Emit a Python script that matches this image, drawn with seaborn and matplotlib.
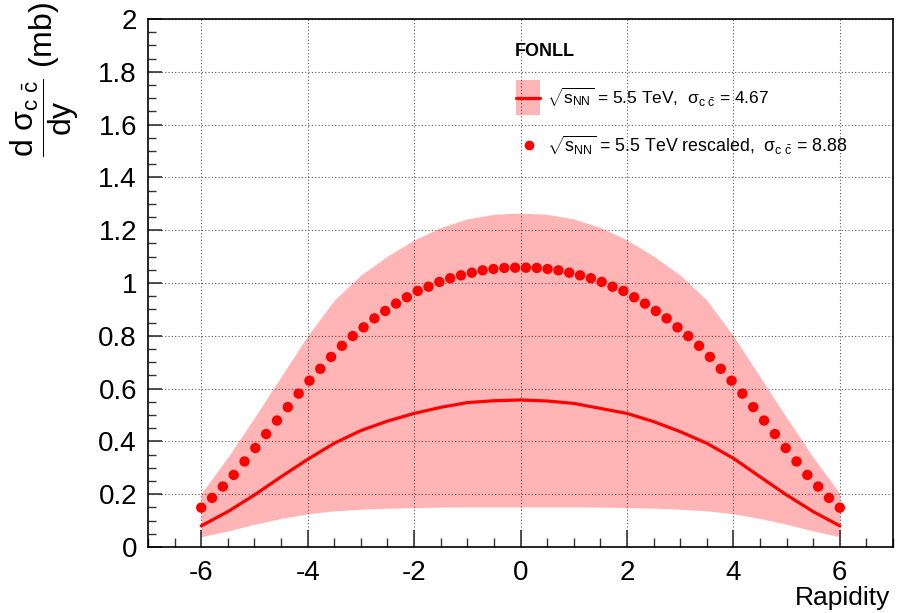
import numpy as np
import pandas as pd
import seaborn as sns
import matplotlib
matplotlib.use("Agg")
import matplotlib.pyplot as plt
from matplotlib.patches import Rectangle
from matplotlib.lines import Line2D
from matplotlib.ticker import MultipleLocator, FormatStrFormatter

# ---------------- data ----------------
# FONLL central curve and uncertainty band (sqrt(s_NN) = 5.5 TeV)
rap_curve = [-6.0, -5.5, -5.0, -4.5, -4.0, -3.5, -3.0, -2.5, -2.0, -1.5, -1.0, -0.5, 0.0,
             0.5, 1.0, 1.5, 2.0, 2.5, 3.0, 3.5, 4.0, 4.5, 5.0, 5.5, 6.0]
central = [0.080, 0.134, 0.197, 0.266, 0.332, 0.393, 0.441, 0.477, 0.506, 0.529, 0.547, 0.554, 0.557,
           0.553, 0.544, 0.525, 0.506, 0.475, 0.437, 0.393, 0.336, 0.266, 0.197, 0.134, 0.080]
band_upper = [0.203, 0.340, 0.490, 0.645, 0.800, 0.935, 1.030, 1.102, 1.163, 1.210, 1.243, 1.260, 1.265,
              1.260, 1.243, 1.210, 1.163, 1.102, 1.030, 0.935, 0.800, 0.645, 0.490, 0.340, 0.203]
band_lower = [0.039, 0.061, 0.086, 0.108, 0.126, 0.137, 0.143, 0.147, 0.149, 0.151, 0.152, 0.152, 0.152,
              0.152, 0.152, 0.151, 0.149, 0.147, 0.143, 0.137, 0.126, 0.108, 0.086, 0.061, 0.039]

# rescaled curve (60 points between -6 and 6)
rap_points = np.linspace(-6.0, 6.0, 60)
rescaled = [0.149, 0.186, 0.229, 0.273, 0.324, 0.375, 0.428, 0.479, 0.530, 0.581,
            0.630, 0.675, 0.720, 0.762, 0.799, 0.832, 0.866, 0.894, 0.922, 0.946,
            0.970, 0.986, 1.004, 1.018, 1.029, 1.039, 1.048, 1.053, 1.057, 1.058,
            1.058, 1.057, 1.053, 1.048, 1.039, 1.029, 1.018, 1.004, 0.986, 0.970,
            0.946, 0.922, 0.894, 0.866, 0.832, 0.799, 0.762, 0.720, 0.675, 0.630,
            0.581, 0.530, 0.479, 0.428, 0.375, 0.324, 0.273, 0.229, 0.186, 0.149]

legend_title = "FONLL"
label_curve = r"$\sqrt{\mathrm{s}_{\mathrm{NN}}}$ = 5.5 TeV,  $\mathrm{\sigma}_{\mathrm{c}\ \bar{\mathrm{c}}}$ = 4.67"
label_points = r"$\sqrt{\mathrm{s}_{\mathrm{NN}}}$ = 5.5 TeV rescaled,  $\mathrm{\sigma}_{\mathrm{c}\ \bar{\mathrm{c}}}$ = 8.88"

df_curve = pd.DataFrame({"y": rap_curve, "v": central, "lo": band_lower, "hi": band_upper})
df_pts = pd.DataFrame({"y": rap_points, "v": rescaled})

# ---------------- style ----------------
sns.set_theme(style="white")
plt.rcParams["font.family"] = ["Liberation Sans", "DejaVu Sans"]
plt.rcParams["mathtext.fontset"] = "custom"
plt.rcParams["mathtext.rm"] = "Liberation Sans"
plt.rcParams["mathtext.it"] = "Liberation Sans:italic"
plt.rcParams["mathtext.bf"] = "Liberation Sans:bold"
for key in ["text.color", "axes.labelcolor", "xtick.color", "ytick.color", "axes.edgecolor"]:
    plt.rcParams[key] = "black"

fig = plt.figure(figsize=(9, 6.13), dpi=100)
ax = fig.add_axes([148 / 900, 1 - 547 / 613, 745 / 900, 528 / 613])

band_color = (1.0, 0.0, 0.0, 0.29)
ax.fill_between(df_curve["y"], df_curve["lo"], df_curve["hi"], color=band_color, linewidth=0, zorder=2)
sns.lineplot(data=df_curve, x="y", y="v", color="red", linewidth=2.3, ax=ax, zorder=3, legend=False)
sns.scatterplot(data=df_pts, x="y", y="v", color="red", s=56, edgecolor="none", ax=ax, zorder=4, legend=False)

ax.set_xlim(-7, 7)
ax.set_ylim(0, 2)
ax.xaxis.set_major_locator(MultipleLocator(2))
ax.xaxis.set_minor_locator(MultipleLocator(0.5))
ax.yaxis.set_major_locator(MultipleLocator(0.2))
ax.yaxis.set_minor_locator(MultipleLocator(0.05))
ax.yaxis.set_major_formatter(FormatStrFormatter("%g"))
ax.xaxis.set_major_formatter(FormatStrFormatter("%g"))

ax.set_axisbelow(True)
ax.grid(True, which="major", color="#555555", linestyle=(0, (1, 2)), linewidth=0.8, zorder=1)

ax.tick_params(axis="x", which="major", direction="in", length=12, width=1.2, color="#333333",
               labelsize=20, labelcolor="black", pad=9, bottom=True, top=False)
ax.tick_params(axis="x", which="minor", direction="in", length=6.5, width=1.0, color="#333333",
               bottom=True, top=False)
ax.tick_params(axis="y", which="major", direction="in", length=10, width=1.2, color="#333333",
               labelsize=20, labelcolor="black", pad=8, left=True, right=False)
ax.tick_params(axis="y", which="minor", direction="in", length=5.5, width=1.0, color="#333333",
               left=True, right=False)
for sp in ax.spines.values():
    sp.set_color("black")
    sp.set_linewidth(1.2)

ax.set_xlabel("")
ax.set_ylabel("")
fig.text(0.989, 1 - 598 / 613, "Rapidity", ha="right", va="center", fontsize=19, color="black")
fig.text(0.050, 1 - 2 / 613,
         r"$\dfrac{\mathrm{d}\ \mathrm{\sigma}_{\mathrm{c}\ \bar{\mathrm{c}}}}{\mathrm{dy}}$ (mb)",
         rotation=90, ha="center", va="top", fontsize=23, color="black")

# ---------------- legend (manual, ROOT-like) ----------------
tr = ax.transAxes
ax.text(0.4926, 0.9375, legend_title, transform=tr, fontsize=13, fontweight="bold",
        ha="left", va="center", color="black")
ax.add_patch(Rectangle((0.494, 0.818), 0.032, 0.066, transform=tr, facecolor=band_color,
                       edgecolor="none", zorder=5))
ax.add_line(Line2D([0.494, 0.526], [0.851, 0.851], transform=tr, color="red", linewidth=2.3, zorder=6))
ax.text(0.5356, 0.851, label_curve, transform=tr, fontsize=12.5, ha="left", va="center", color="black")
ax.add_line(Line2D([0.5114], [0.7614], transform=tr, color="red", marker="o", markersize=7,
                   markeredgewidth=0, linestyle="none", zorder=6))
ax.text(0.5356, 0.7614, label_points, transform=tr, fontsize=12.8, ha="left", va="center", color="black")

fig.savefig("out.png", dpi=100)
